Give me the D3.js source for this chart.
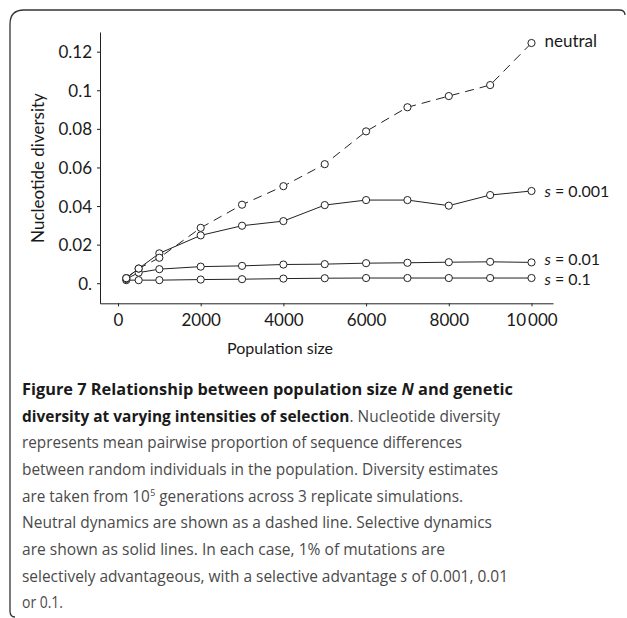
<!DOCTYPE html>
<html>
<head>
<meta charset="utf-8">
<script src="https://cdn.jsdelivr.net/npm/d3@7"></script>
<style>
  body { margin: 0; background: #fff; }
  svg { display: block; }
  .tick text { font-family: Lato, sans-serif; font-size: 17px; fill: #1a1a1a; }
</style>
</head>
<body>
<div id="chart"></div>
<script>
// data

var popSizes = [200, 500, 1000, 2000, 3000, 4000, 5000, 6000, 7000, 8000, 9000, 10000];

var neutral = [0.0026, 0.0076, 0.0132, 0.0287, 0.0407, 0.0503, 0.0617, 0.0787, 0.0912, 0.0970, 0.1027, 0.1245];
var s001 = [0.0027, 0.0076, 0.0155, 0.0248, 0.0298, 0.0322, 0.0405, 0.0431, 0.0431, 0.0402, 0.0457, 0.0478];
var s01 = [0.0022, 0.0055, 0.0073, 0.0086, 0.0090, 0.0097, 0.0099, 0.0104, 0.0106, 0.0109, 0.0111, 0.0108];
var s1 = [0.0016, 0.0016, 0.0016, 0.0019, 0.0021, 0.0024, 0.0026, 0.0027, 0.0027, 0.0027, 0.0027, 0.0027];

var seriesNames = ["neutral", "s = 0.001", "s = 0.01", "s = 0.1"];

var xTicks = [0, 2000, 4000, 6000, 8000, 10000];
var xTickLabels = ["0", "2000", "4000", "6000", "8000", "10\u2009000"];
var yTicks = [0, 0.02, 0.04, 0.06, 0.08, 0.1, 0.12];
var yTickLabels = ["0.", "0.02", "0.04", "0.06", "0.08", "0.1", "0.12"];

var captionLines = [
  [["b", "Figure 7 Relationship between population size "], ["bi", "N"], ["b", " and genetic"]],
  [["b", "diversity at varying intensities of selection"], ["r", ". Nucleotide diversity"]],
  [["r", "represents mean pairwise proportion of sequence differences"]],
  [["r", "between random individuals in the population. Diversity estimates"]],
  [["r", "are taken from 10"], ["sup", "5"], ["r", " generations across 3 replicate simulations."]],
  [["r", "Neutral dynamics are shown as a dashed line. Selective dynamics"]],
  [["r", "are shown as solid lines. In each case, 1% of mutations are"]],
  [["r", "selectively advantageous, with a selective advantage "], ["i", "s"], ["r", " of 0.001, 0.01"]],
  [["r", "or 0.1."]]
];
// widths the lines take in the figure
var captionWidths = [491, 478, 440, 476, 441, 470, 423, 486, 41];

var svgWidth = 627;
var svgHeight = 618;

var svg = d3.select("#chart")
  .append("svg")
  .attr("width", svgWidth)
  .attr("height", svgHeight);

// frame round the figure
svg.append("path")
  .attr("d", "M625,15 Q625,10 619,10 L24,10 Q10,10 10,24 L10,611 Q10,617 15,617")
  .attr("fill", "none")
  .attr("stroke", "#333")
  .attr("stroke-width", 1.3);

// scales
var xScale = d3.scaleLinear()
  .domain([-435, 10520])
  .range([100, 553]);

var yScale = d3.scaleLinear()
  .domain([-0.0104, 0.1302])
  .range([303.3, 32]);

// axes
var bottomAxis = d3.axisBottom(xScale)
  .tickValues(xTicks)
  .tickFormat((d, i) => xTickLabels[i])
  .tickSize(3)
  .tickSizeOuter(0)
  .tickPadding(8);

var leftAxis = d3.axisLeft(yScale)
  .tickValues(yTicks)
  .tickFormat((d, i) => yTickLabels[i])
  .tickSize(3)
  .tickSizeOuter(0)
  .tickPadding(5);

var xAxis = svg.append("g")
  .attr("transform", `translate(0, ${yScale.range()[0]})`)
  .call(bottomAxis);

var yAxis = svg.append("g")
  .attr("transform", `translate(${xScale.range()[0]}, 0)`)
  .call(leftAxis);

svg.selectAll(".domain, .tick line")
  .attr("stroke", "#222")
  .attr("stroke-width", 1);
yAxis.selectAll(".tick text").attr("dy", "0.36em");

// axis labels
svg.append("text")
  .attr("x", 280)
  .attr("y", 354)
  .attr("text-anchor", "middle")
  .style("font-family", "Lato, sans-serif")
  .style("font-size", "16px")
  .style("fill", "#1a1a1a")
  .text("Population size");

svg.append("text")
  .attr("transform", "translate(44, 168) rotate(-90)")
  .attr("text-anchor", "middle")
  .style("font-family", "Lato, sans-serif")
  .style("font-size", "17px")
  .style("fill", "#1a1a1a")
  .text("Nucleotide diversity");

// lines and points
var allSeries = [neutral, s001, s01, s1];

var line = d3.line()
  .x((d, i) => xScale(popSizes[i]))
  .y(d => yScale(d));

// draw the solid lines first, dashed neutral on top
[3, 2, 1, 0].forEach(function(k) {
  var vals = allSeries[k];
  svg.append("path")
    .datum(vals)
    .attr("d", line)
    .attr("fill", "none")
    .attr("stroke", "#222")
    .attr("stroke-width", 1)
    .attr("stroke-dasharray", k === 0 ? "9,6" : null);

  svg.append("g")
    .selectAll("circle")
    .data(vals)
    .enter()
    .append("circle")
    .attr("cx", (d, i) => xScale(popSizes[i]))
    .attr("cy", d => yScale(d))
    .attr("r", 3.6)
    .attr("fill", "#fff")
    .attr("stroke", "#222")
    .attr("stroke-width", 1);
});

// series labels at the right end
var labelOffsets = [4, 6, 3, 7];
seriesNames.forEach(function(name, k) {
  var vals = allSeries[k];
  var last = vals[vals.length - 1];
  var t = svg.append("text")
    .attr("x", xScale(popSizes[popSizes.length - 1]) + 13)
    .attr("y", yScale(last) + labelOffsets[k])
    .style("font-family", "Lato, sans-serif")
    .style("font-size", k === 0 ? "17px" : "16px")
    .style("fill", "#1a1a1a");
  if (k === 0) {
    t.text(name);
  } else {
    t.append("tspan").style("font-style", "italic").text("s");
    t.append("tspan").text(name.slice(1));
  }
});

// caption
var caption = svg.append("g")
  .style("font-family", "'Open Sans', sans-serif")
  .style("font-size", "15.5px");

captionLines.forEach(function(parts, li) {
  var t = caption.append("text")
    .attr("x", 22)
    .attr("y", 395 + li * 26.67)
    .attr("textLength", captionWidths[li])
    .attr("lengthAdjust", "spacingAndGlyphs");
  var raised = false;
  parts.forEach(function(p) {
    var span = t.append("tspan").text(p[1]);
    if (p[0] === "b" || p[0] === "bi") {
      span.style("font-weight", "bold").style("fill", "#1a1a1a");
    } else {
      span.style("fill", "#4a4a4a");
    }
    if (p[0] === "bi" || p[0] === "i") span.style("font-style", "italic");
    if (p[0] === "sup") {
      span.style("font-size", "9px").attr("dy", -6).attr("dx", 0.5);
      raised = true;
    } else if (raised) {
      span.attr("dy", 6);
      raised = false;
    }
  });
});
</script>
</body>
</html>
